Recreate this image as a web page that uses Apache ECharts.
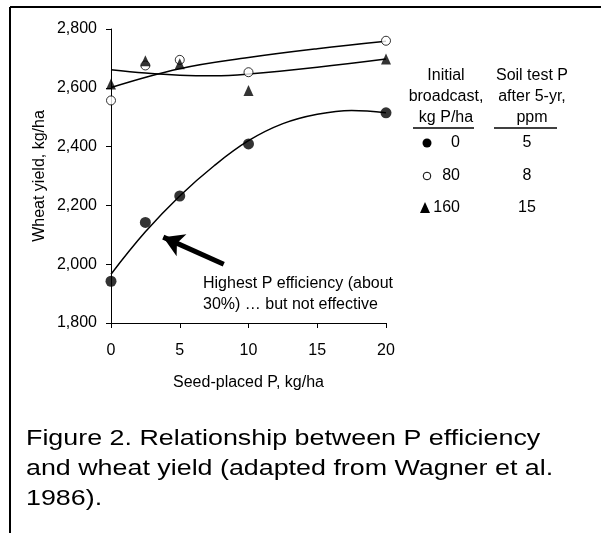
<!DOCTYPE html>
<html>
<head>
<meta charset="utf-8">
<script src="https://cdn.jsdelivr.net/npm/echarts@6/dist/echarts.min.js"></script>
<style>
  html, body { margin: 0; padding: 0; background: #fff; }
  #container { width: 601px; height: 533px; }
</style>
</head>
<body>
<div id="container"></div>
<script>
// seed-placed P rates, kg/ha
var seedP = [0, 2.5, 5, 10, 20];
// measured wheat yield, kg/ha, for each initial broadcast rate
var yield0 = [1942, 2142, 2232, 2409, 2515];
var yield80 = [2557, 2676, 2695, 2653, 2760];
var yield160 = [2613, 2692, 2682, 2591, 2698];

// fitted curves
var fitX0 = [0, 2.5, 5, 7.5, 10, 12.5, 15, 17.5, 20];
var fit0 = [1966, 2110, 2232, 2335, 2420, 2478, 2510, 2523, 2515];
var fitX80 = [0, 5, 10, 15, 20];
var fit80 = [2601, 2665, 2703, 2733, 2758];
var fitX160 = [0, 2.5, 5, 7.5, 10, 15, 20];
var fit160 = [2661, 2650, 2643, 2641, 2647, 2670, 2698];

var xTicks = [0, 5, 10, 15, 20];
var legendBroadcast = ['0', '80', '160'];
var legendSoilP = ['5', '8', '15'];
var captionLines = [
    'Figure 2. Relationship between P efficiency',
    'and wheat yield (adapted from Wagner et al.',
    '1986).'
];

var FONT = '"Liberation Sans", Arial, sans-serif';

function pairs(xs, ys) {
    return xs.map(function (x, i) { return [x, ys[i]]; });
}

var dom = document.getElementById("container");
var myChart = echarts.init(dom);

var axisStyle = { lineStyle: { color: '#000', width: 1 } };

// legend block (drawn as a small table, like the original)
var legendGraphics = [];
var headLeft = ['Initial', 'broadcast,', 'kg P/ha'];
var headRight = ['Soil test P', 'after 5-yr,', 'ppm'];
var headY = [76, 97, 118];
for (var h = 0; h < 3; h++) {
    legendGraphics.push({ type: 'text', x: 446, y: headY[h],
        style: { text: headLeft[h], fill: '#000', font: '16px ' + FONT, align: 'center', verticalAlign: 'middle' } });
    legendGraphics.push({ type: 'text', x: 532, y: headY[h],
        style: { text: headRight[h], fill: '#000', font: '16px ' + FONT, align: 'center', verticalAlign: 'middle' } });
}
legendGraphics.push({ type: 'line', shape: { x1: 413, y1: 128, x2: 474, y2: 128 }, style: { stroke: '#000', lineWidth: 1.5 } });
legendGraphics.push({ type: 'line', shape: { x1: 494, y1: 128, x2: 557, y2: 128 }, style: { stroke: '#000', lineWidth: 1.5 } });
var rowY = [143, 176, 208];
for (var r = 0; r < 3; r++) {
    legendGraphics.push({ type: 'text', x: 460, y: rowY[r],
        style: { text: legendBroadcast[r], fill: '#000', font: '16px ' + FONT, align: 'right', verticalAlign: 'middle' } });
    legendGraphics.push({ type: 'text', x: 527, y: rowY[r],
        style: { text: legendSoilP[r], fill: '#000', font: '16px ' + FONT, align: 'center', verticalAlign: 'middle' } });
}
legendGraphics.push({ type: 'circle', shape: { cx: 427, cy: rowY[0], r: 4.5 }, style: { fill: '#000' } });
legendGraphics.push({ type: 'circle', shape: { cx: 427, cy: rowY[1], r: 3.8 }, style: { fill: '#fff', stroke: '#000', lineWidth: 1 } });
legendGraphics.push({ type: 'polygon', shape: { points: [[425, rowY[2] - 6], [420, rowY[2] + 5], [430, rowY[2] + 5]] }, style: { fill: '#000' } });

// caption under the chart, wide type as in the source
var captionGraphics = captionLines.map(function (line, i) {
    return { type: 'text', x: 26, y: 439 + i * 30, scaleX: 1.22,
        style: { text: line, fill: '#000', font: '22px ' + FONT, verticalAlign: 'middle' } };
});

var option = {
    animation: false,
    backgroundColor: '#fff',
    grid: { left: 111, right: 215, top: 29, bottom: 210 },
    xAxis: {
        type: 'value',
        min: 0, max: 20, interval: 5,
        axisLine: axisStyle,
        axisTick: { show: true, length: 5, lineStyle: { color: '#000' } },
        axisLabel: { color: '#000', fontSize: 16, fontFamily: FONT, margin: 20,
            customValues: xTicks },
        splitLine: { show: false },
        name: 'Seed-placed P, kg/ha',
        nameLocation: 'middle',
        nameGap: 52,
        nameTextStyle: { color: '#000', fontSize: 16, fontFamily: FONT }
    },
    yAxis: {
        type: 'value',
        min: 1800, max: 2800, interval: 200,
        axisLine: { show: true, lineStyle: { color: '#000', width: 1 } },
        axisTick: { show: true, length: 5, lineStyle: { color: '#000' } },
        axisLabel: { color: '#000', fontSize: 16, fontFamily: FONT, margin: 14,
            formatter: function (v) { return v.toLocaleString('en-US'); } },
        splitLine: { show: false },
        name: 'Wheat yield, kg/ha',
        nameLocation: 'middle',
        nameGap: 63,
        nameTextStyle: { color: '#000', fontSize: 16, fontFamily: FONT }
    },
    graphic: [
        { type: 'line', shape: { x1: 10, y1: 7, x2: 601, y2: 7 }, style: { stroke: '#000', lineWidth: 2 } },
        { type: 'line', shape: { x1: 10, y1: 7, x2: 10, y2: 533 }, style: { stroke: '#000', lineWidth: 2 } },
        { type: 'text', x: 203, y: 284, style: { text: 'Highest P efficiency (about', fill: '#000', font: '16px ' + FONT, verticalAlign: 'middle' } },
        { type: 'text', x: 203, y: 305, style: { text: '30%) \u2026 but not effective', fill: '#000', font: '16px ' + FONT, verticalAlign: 'middle' } }
    ].concat(captionGraphics, legendGraphics),
    series: [
        {
            name: 'fit 0', type: 'line', data: pairs(fitX0, fit0), smooth: 0.4,
            showSymbol: false, lineStyle: { color: '#000', width: 1.5 }, silent: true, z: 1,
            markLine: {
                silent: true, symbol: ['none', 'arrow'], symbolSize: [18, 20],
                label: { show: false },
                lineStyle: { color: '#000', width: 5, type: 'solid' },
                data: [[{ coord: [8.2, 2000] }, { coord: [3.8, 2092] }]]
            }
        },
        {
            name: 'fit 80', type: 'line', data: pairs(fitX80, fit80), smooth: 0.4,
            showSymbol: false, lineStyle: { color: '#000', width: 1.5 }, silent: true, z: 1
        },
        {
            name: 'fit 160', type: 'line', data: pairs(fitX160, fit160), smooth: 0.4,
            showSymbol: false, lineStyle: { color: '#000', width: 1.5 }, silent: true, z: 1
        },
        {
            name: '0', type: 'scatter', data: pairs(seedP, yield0), symbol: 'circle', symbolSize: 11,
            itemStyle: { color: '#000' }, z: 3
        },
        {
            name: '80', type: 'scatter', data: pairs(seedP, yield80), symbol: 'circle', symbolSize: 9,
            itemStyle: { color: '#fff', borderColor: '#000', borderWidth: 1 }, z: 3
        },
        {
            name: '160', type: 'scatter', data: pairs(seedP, yield160), symbol: 'triangle', symbolSize: [10, 11],
            itemStyle: { color: '#000' }, z: 3
        }
    ]
};
myChart.setOption(option, true);
</script>
</body>
</html>
